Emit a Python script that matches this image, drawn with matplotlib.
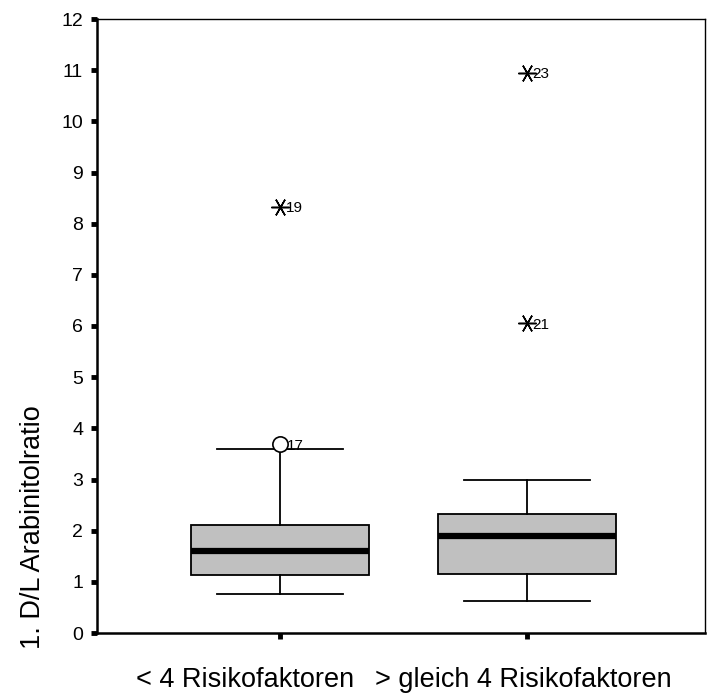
import matplotlib
matplotlib.use("Agg")
import matplotlib.pyplot as plt

plt.rcParams['font.family'] = ['Liberation Sans', 'DejaVu Sans']

# values
groups = ["< 4 Risikofaktoren", "> gleich 4 Risikofaktoren"]
whislo = [0.76, 0.62]
q1 = [1.13, 1.15]
med = [1.60, 1.90]
q3 = [2.11, 2.32]
whishi = [3.59, 3.00]
# outliers (circle) and extremes (asterisk), with case numbers
out_group = [1]
out_val = [3.69]
out_id = ["17"]
ext_group = [1, 2, 2]
ext_val = [8.33, 6.05, 10.95]
ext_id = ["19", "21", "23"]

fig = plt.figure(figsize=(7.09, 6.95), dpi=100)
ax = fig.add_axes([97 / 709, 1 - 633 / 695, 608 / 709, 614 / 695])

stats = []
for i in range(len(groups)):
    stats.append(dict(whislo=whislo[i], q1=q1[i], med=med[i], q3=q3[i],
                      whishi=whishi[i], fliers=[]))

ax.bxp(stats, positions=[1, 2], widths=0.72, patch_artist=True,
       showfliers=False,
       boxprops=dict(facecolor="#c0c0c0", edgecolor="black", linewidth=1.3),
       medianprops=dict(color="black", linewidth=4.5, solid_capstyle="butt"),
       whiskerprops=dict(color="black", linewidth=1.3),
       capprops=dict(color="black", linewidth=1.3), capwidths=0.51)

ax.plot(out_group, out_val, "o", ms=11, mfc="white", mec="black", mew=1.2)
ax.plot(ext_group, ext_val, ls="none", marker=(6, 2, 90), ms=13,
        mec="black", mew=1.1)
for g, v, s in zip(out_group, out_val, out_id):
    ax.annotate(s, (g, v), xytext=(5, -1), textcoords="offset points",
                fontsize=11, va="center")
for g, v, s in zip(ext_group, ext_val, ext_id):
    ax.annotate(s, (g, v), xytext=(4, -1), textcoords="offset points",
                fontsize=11, va="center")

ax.set_xlim(0.26, 2.72)
ax.set_ylim(0, 12)
ax.set_yticks(range(0, 13))
ax.set_xticks([1, 2])
ax.set_xticklabels([])
ax.tick_params(axis="y", direction="out", length=4, width=3.5, labelsize=14, pad=6)
ax.tick_params(axis="x", direction="out", length=4, width=3.5)

for side in ["left", "bottom"]:
    ax.spines[side].set_linewidth(1.8)
for side in ["top", "right"]:
    ax.spines[side].set_linewidth(1.0)

fig.text(33 / 709, 1 - 527 / 695, "1. D/L Arabinitolratio", rotation=90,
         fontsize=19.5, ha="center", va="center")
fig.text(245 / 709, 1 - 680 / 695, groups[0], fontsize=19.5, ha="center", va="center")
fig.text(523 / 709, 1 - 680 / 695, groups[1], fontsize=19.5, ha="center", va="center")

fig.savefig("out.png", dpi=100)
